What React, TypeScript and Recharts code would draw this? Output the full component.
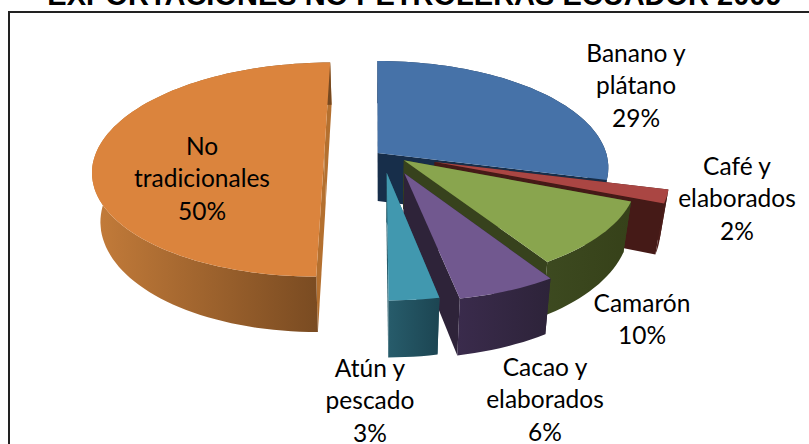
import { PieChart, Pie } from "recharts";

const categories = [
  ["Banano y", "plátano"],
  ["Café y", "elaborados"],
  ["Camarón"],
  ["Cacao y", "elaborados"],
  ["Atún y", "pescado"],
  ["No", "tradicionales"],
];
const shares = [29, 2, 10, 6, 3, 50];

const topColors = ["#4672a8", "#aa4643", "#89a54e", "#71588f", "#4198af", "#db843d"];
const wallFrom = ["#1b3657", "#50201c", "#3d4a20", "#3a2b4c", "#275c6b", "#c47c3a"];
const wallTo = ["#162c47", "#451a17", "#364119", "#2d2339", "#1c4552", "#754820"];
const cutColors = ["#172e4a", "#451a17", "#37421d", "#2e2339", "#275c6b", "#b4702f"];

// how far each slice is pulled out of the pie, in radii (sideways, towards viewer)
const explodeX = [0.012, 0.258, 0.125, 0.125, 0.05, -0.222];
const explodeY = [-0.019, 0.066, 0.05, 0.17, 0.165, 0];

// centre of the first line of each label
const labelX = [636, 737, 642, 545, 370, 202];
const labelY = [52, 165, 302, 366, 367, 145];
const lineHeight = 32.5;

const chartData = categories.map((lines, i) => ({ name: lines.join(" "), value: shares[i] }));

const SQUASH = 105 / 229;
const PERSPECTIVE = 0.136;
const DEPTH = 48;
const SHRINK = 0.97;

function project(a: number, r: number, i: number, cx: number, cy: number, R: number, down = false) {
  const rad = (a * Math.PI) / 180;
  const wx = explodeX[i] + r * Math.cos(rad);
  const wy = explodeY[i] - r * Math.sin(rad);
  const w = 1 / (1 - PERSPECTIVE * wy);
  const x = wx * R * w;
  const y = wy * R * SQUASH * w;
  if (!down) return [cx + x, cy + y];
  return [cx + x * SHRINK, cy + y + DEPTH * w];
}

function toPath(points: number[][]) {
  return "M" + points.map((p) => `${p[0].toFixed(1)},${p[1].toFixed(1)}`).join("L") + "Z";
}

function Slice(props: any) {
  const { cx, cy, outerRadius, startAngle, endAngle, index } = props;
  const hi = Math.max(startAngle, endAngle);
  const lo = Math.min(startAngle, endAngle);
  const steps = Math.max(2, Math.ceil((hi - lo) / 2));
  const rim: number[][] = [];
  const rimDown: number[][] = [];
  for (let s = 0; s <= steps; s++) {
    const a = hi - ((hi - lo) * s) / steps;
    rim.push(project(a, 1, index, cx, cy, outerRadius));
    rimDown.push(project(a, 1, index, cx, cy, outerRadius, true));
  }
  const apex = project(0, 0, index, cx, cy, outerRadius);
  const apexDown = project(0, 0, index, cx, cy, outerRadius, true);
  const last = rim.length - 1;
  const cuts = [
    [apex, rim[0], rimDown[0], apexDown],
    [apex, rim[last], rimDown[last], apexDown],
  ];
  const gradId = `wall-${index}`;
  return (
    <g>
      <defs>
        <linearGradient id={gradId} x1="0" y1="0" x2="1" y2="0">
          <stop offset="0%" stopColor={wallFrom[index]} />
          <stop offset="100%" stopColor={wallTo[index]} />
        </linearGradient>
      </defs>
      {cuts.map((c, k) => (
        <path key={k} d={toPath(c)} fill={cutColors[index]} />
      ))}
      <path d={toPath([...rim, ...[...rimDown].reverse()])} fill={`url(#${gradId})`} />
      <path d={toPath([apex, ...rim])} fill={topColors[index]} />
    </g>
  );
}

function SliceLabel(props: any) {
  const { index } = props;
  const lines = [...categories[index], `${shares[index]}%`];
  return (
    <text textAnchor="middle" fontFamily="Lato" fontSize={24.5} fill="#000">
      {lines.map((line, k) => (
        <tspan key={k} x={labelX[index]} y={labelY[index] + k * lineHeight} dominantBaseline="central">
          {line}
        </tspan>
      ))}
    </text>
  );
}

export default function App() {
  return (
    <div style={{ position: "absolute", left: 0, top: 0, width: 809, height: 444, overflow: "hidden", background: "#fff" }}>
      <div
        style={{
          position: "absolute",
          left: 0,
          width: 829,
          top: -21,
          textAlign: "center",
          fontFamily: "Liberation Sans",
          fontWeight: 700,
          fontSize: 29,
          lineHeight: "32px",
          whiteSpace: "nowrap",
          color: "#000",
        }}
      >
        EXPORTACIONES NO PETROLERAS ECUADOR 2009
      </div>
      <div
        style={{
          position: "absolute",
          left: 8,
          top: 11,
          width: 820,
          height: 450,
          border: "2px solid #222",
          boxSizing: "border-box",
        }}
      />
      <div style={{ position: "absolute", left: 0, top: 0 }}>
        <PieChart width={809} height={444} margin={{ top: 0, right: 0, bottom: 0, left: 0 }}>
          <Pie
            data={chartData}
            dataKey="value"
            nameKey="name"
            cx={375}
            cy={155}
            outerRadius={229}
            startAngle={90}
            endAngle={-270}
            isAnimationActive={false}
            stroke="none"
            shape={Slice}
            label={SliceLabel}
            labelLine={false}
          />
        </PieChart>
      </div>
    </div>
  );
}
